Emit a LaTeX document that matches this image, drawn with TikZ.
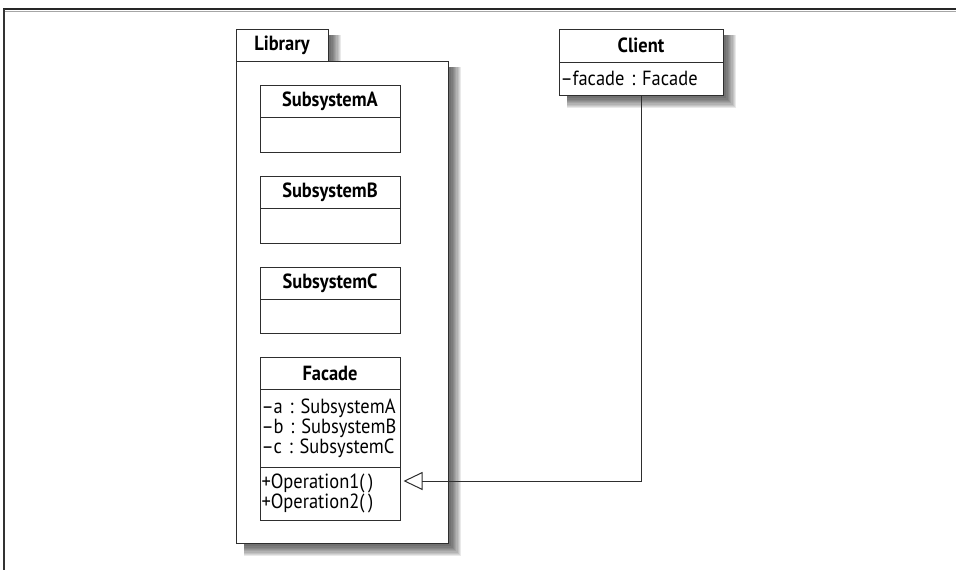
\documentclass[tikz,border=0pt]{standalone}
\usepackage{fontspec}
\setmainfont{PT Sans}[FakeStretch=0.9]
\usetikzlibrary{arrows.meta}
\frenchspacing
\newcommand\umlshadow[4]{%
  \foreach \k in {1,...,9}{%
    \fill[black, fill opacity=0.085] ({#1+8},{#2+6}) rectangle ({#3+2+\k*1.25},{#4+2+\k*1.25});
  }%
}
\begin{document}
\begin{tikzpicture}[x=1pt,y=-1pt,
  ln/.style={draw=black!82, line width=1pt},
  txt/.style={font=\fontsize{20.5}{20}\selectfont},
  bold/.style={font=\bfseries\fontsize{20.5}{20}\selectfont},
  cname/.style={ln, fill=white, bold, minimum width=140pt, minimum height=32pt, inner sep=0pt},
  cbody/.style={ln, fill=white, txt, minimum width=140pt, text width=137pt, align=left, inner xsep=1.5pt, inner ysep=0pt},
  gen/.style={ln, -{Triangle[open, length=19pt, width=18pt, line width=1pt]}}
]
\useasboundingbox (0,0) rectangle (956,570);
% frame
\draw[black!85, line width=2pt] (3,9) -- (956,9);
\draw[black!35, line width=0.7pt] (3,10.9) -- (956,10.9);
\draw[black!80, line width=1.2pt] (4,9) -- (4,570);
% shadows
\umlshadow{236}{29}{328}{61}
\umlshadow{236}{61}{448}{543}
\umlshadow{559}{29}{723}{95}
% package
\node[ln, fill=white, minimum width=212pt, minimum height=482pt, inner sep=0pt] (pkg) at (342,302) {};
\node[ln, fill=white, bold, minimum width=92pt, minimum height=32pt, inner sep=0pt] (tab) at (282,45) {Library};
% Subsystem A
\node[cname] (an) at (330,101) {SubsystemA};
\node[cbody, minimum height=35pt] (ab) at (330,134.5) {};
% Subsystem B
\node[cname] (bn) at (330,192) {SubsystemB};
\node[cbody, minimum height=35pt] (bb) at (330,225.5) {};
% Subsystem C
\node[cname] (cn) at (330,283) {SubsystemC};
\node[cbody, minimum height=34pt] (cb) at (330,316) {};
% Facade
\node[cname] (fn) at (330,373) {Facade};
\node[cbody, minimum height=78pt] (fa) at (330,428) {\textendash a : SubsystemA\\\textendash b : SubsystemB\\\textendash c : SubsystemC};
\node[cbody, minimum height=53pt] (fo) at (330,493.5) {+Operation1(\,)\\+Operation2(\,)};
% Client
\node[cname, minimum width=164pt, minimum height=33pt] (kn) at (641,45.5) {Client};
\node[cbody, minimum width=164pt, text width=161pt, minimum height=33pt] (ka) at (641,78.5) {\textendash facade : Facade};
% generalization-like arrow
\draw[gen] (ka.south) |- ([xshift=3pt, yshift=12.5pt]fo.east);
\end{tikzpicture}
\end{document}
